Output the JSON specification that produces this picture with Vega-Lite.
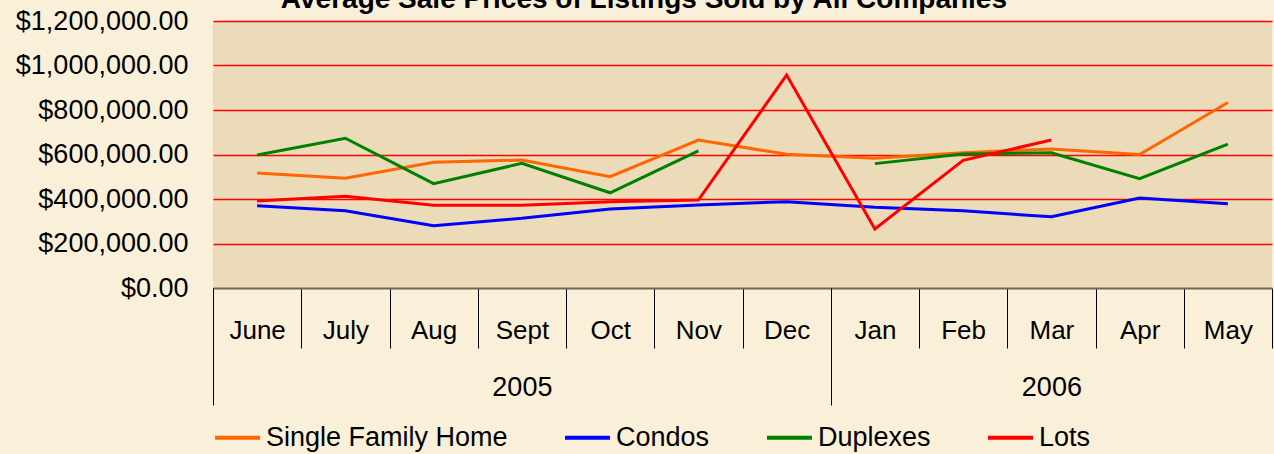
{
  "$schema": "https://vega.github.io/schema/vega-lite/v6.json",
  "width": 1059,
  "height": 267,
  "autosize": {"type": "none"},
  "padding": {"left": 213, "top": 21, "right": 2, "bottom": 166},
  "background": "#FAF0D9",
  "config": {
    "view": {"fill": "#EBDBB8", "stroke": null},
    "font": "Liberation Sans"
  },
  "title": {
    "text": "Average Sale Prices of Listings Sold by All Companies",
    "font": "Liberation Sans",
    "fontSize": 28,
    "fontWeight": "bold",
    "color": "#000000",
    "anchor": "middle",
    "frame": "bounds",
    "baseline": "alphabetic",
    "offset": 0,
    "dy": 29
  },
  "data": {
    "values": [
      {"Month": "June", "Type": "Single Family Home", "Price": 517000},
      {"Month": "July", "Type": "Single Family Home", "Price": 493000},
      {"Month": "Aug", "Type": "Single Family Home", "Price": 565000},
      {"Month": "Sept", "Type": "Single Family Home", "Price": 575000},
      {"Month": "Oct", "Type": "Single Family Home", "Price": 500000},
      {"Month": "Nov", "Type": "Single Family Home", "Price": 665000},
      {"Month": "Dec", "Type": "Single Family Home", "Price": 601000},
      {"Month": "Jan", "Type": "Single Family Home", "Price": 583000},
      {"Month": "Feb", "Type": "Single Family Home", "Price": 608000},
      {"Month": "Mar", "Type": "Single Family Home", "Price": 625000},
      {"Month": "Apr", "Type": "Single Family Home", "Price": 600000},
      {"Month": "May", "Type": "Single Family Home", "Price": 834000},
      {"Month": "June", "Type": "Condos", "Price": 370000},
      {"Month": "July", "Type": "Condos", "Price": 347000},
      {"Month": "Aug", "Type": "Condos", "Price": 280000},
      {"Month": "Sept", "Type": "Condos", "Price": 313000},
      {"Month": "Oct", "Type": "Condos", "Price": 355000},
      {"Month": "Nov", "Type": "Condos", "Price": 373000},
      {"Month": "Dec", "Type": "Condos", "Price": 388000},
      {"Month": "Jan", "Type": "Condos", "Price": 363000},
      {"Month": "Feb", "Type": "Condos", "Price": 347000},
      {"Month": "Mar", "Type": "Condos", "Price": 320000},
      {"Month": "Apr", "Type": "Condos", "Price": 404000},
      {"Month": "May", "Type": "Condos", "Price": 379000},
      {"Month": "June", "Type": "Duplexes", "Price": 598000},
      {"Month": "July", "Type": "Duplexes", "Price": 673000},
      {"Month": "Aug", "Type": "Duplexes", "Price": 469000},
      {"Month": "Sept", "Type": "Duplexes", "Price": 560000},
      {"Month": "Oct", "Type": "Duplexes", "Price": 428000},
      {"Month": "Nov", "Type": "Duplexes", "Price": 616000},
      {"Month": "Dec", "Type": "Duplexes", "Price": null},
      {"Month": "Jan", "Type": "Duplexes", "Price": 559000},
      {"Month": "Feb", "Type": "Duplexes", "Price": 602000},
      {"Month": "Mar", "Type": "Duplexes", "Price": 608000},
      {"Month": "Apr", "Type": "Duplexes", "Price": 491000},
      {"Month": "May", "Type": "Duplexes", "Price": 647000},
      {"Month": "June", "Type": "Lots", "Price": 391000},
      {"Month": "July", "Type": "Lots", "Price": 412000},
      {"Month": "Aug", "Type": "Lots", "Price": 372000},
      {"Month": "Sept", "Type": "Lots", "Price": 372000},
      {"Month": "Oct", "Type": "Lots", "Price": 388000},
      {"Month": "Nov", "Type": "Lots", "Price": 395000},
      {"Month": "Dec", "Type": "Lots", "Price": 957000},
      {"Month": "Jan", "Type": "Lots", "Price": 265000},
      {"Month": "Feb", "Type": "Lots", "Price": 574000},
      {"Month": "Mar", "Type": "Lots", "Price": 665000}
    ]
  },
  "layer": [
    {
      "mark": {"type": "line", "strokeWidth": 3, "invalid": "break-paths-show-domains"},
      "encoding": {
        "x": {
          "field": "Month",
          "type": "ordinal",
          "sort": ["June", "July", "Aug", "Sept", "Oct", "Nov", "Dec", "Jan", "Feb", "Mar", "Apr", "May"],
          "scale": {"type": "band", "paddingInner": 0, "paddingOuter": 0},
          "axis": {
            "title": null,
            "orient": "bottom",
            "labelAngle": 0,
            "tickBand": "extent",
            "tickSize": 60,
            "tickColor": "#000000",
            "tickWidth": 1,
            "domainColor": "#6B675E",
            "domainWidth": 2,
            "labelFontSize": 26,
            "labelColor": "#000000",
            "labelBaseline": "middle",
            "labelPadding": -18
          }
        },
        "y": {
          "field": "Price",
          "type": "quantitative",
          "scale": {"domain": [0, 1200000]},
          "axis": {
            "title": null,
            "values": [0, 200000, 400000, 600000, 800000, 1000000, 1200000],
            "format": "$,.2f",
            "grid": true,
            "gridColor": "#FF0000",
            "gridWidth": 1.5,
            "gridOpacity": {"condition": {"test": "datum.value === 0", "value": 0}, "value": 1},
            "domain": false,
            "ticks": false,
            "labelPadding": 25,
            "labelFontSize": 27,
            "labelColor": "#000000"
          }
        },
        "color": {
          "field": "Type",
          "type": "nominal",
          "sort": ["Single Family Home", "Condos", "Duplexes", "Lots"],
          "scale": {
            "domain": ["Single Family Home", "Condos", "Duplexes", "Lots"],
            "range": ["#FF6600", "#0000FF", "#008000", "#FF0000"]
          },
          "legend": {
            "orient": "bottom",
            "direction": "horizontal",
            "title": null,
            "symbolType": "stroke",
            "symbolStrokeWidth": 4,
            "symbolSize": 2025,
            "labelFontSize": 27,
            "labelLimit": 500,
            "labelColor": "#000000",
            "columnPadding": 49,
            "labelOffset": 4,
            "offset": 7,
            "padding": 0
          }
        }
      }
    },
    {
      "mark": {"type": "point", "opacity": 0},
      "encoding": {
        "x": {
          "field": "Month",
          "type": "ordinal",
          "sort": ["June", "July", "Aug", "Sept", "Oct", "Nov", "Dec", "Jan", "Feb", "Mar", "Apr", "May"],
          "scale": {"type": "band", "paddingInner": 0, "paddingOuter": 0},
          "axis": {
            "title": null,
            "orient": "bottom",
            "labelAngle": 0,
            "domain": false,
            "tickBand": "extent",
            "tickSize": 117,
            "tickColor": "#000000",
            "tickWidth": 1,
            "tickOpacity": {"condition": {"test": "datum.value === 'Dec' || indexof(['June','July','Aug','Sept','Oct','Nov','Jan','Feb','Mar','Apr','May'], datum.value) < 0", "value": 1}, "value": 0},
            "labelExpr": "datum.value === 'Sept' ? '2005' : datum.value === 'Mar' ? '2006' : ''",
            "labelFontSize": 27,
            "labelColor": "#000000",
            "labelBaseline": "middle",
            "labelPadding": -18
          }
        },
        "y": {"field": "Price", "type": "quantitative"}
      }
    }
  ],
  "resolve": {"axis": {"x": "independent"}}
}
